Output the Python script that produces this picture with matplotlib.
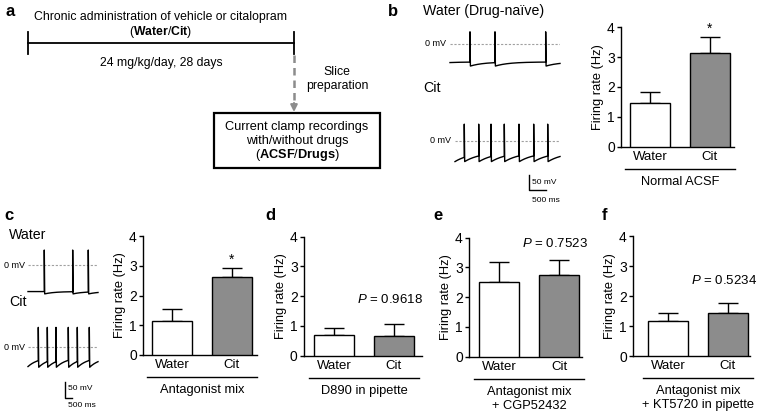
import numpy as np
import matplotlib.pyplot as plt
from matplotlib.patches import Rectangle

plt.rcParams['font.family'] = ['Liberation Sans', 'DejaVu Sans']
plt.rcParams['mathtext.fontset'] = 'custom'
plt.rcParams['mathtext.rm'] = 'Liberation Sans'
plt.rcParams['mathtext.it'] = 'Liberation Sans:italic'
plt.rcParams['mathtext.bf'] = 'Liberation Sans:bold'

# firing rates (Hz), mean and SEM, Water / Cit
groups = ['Water', 'Cit']
rate_b = [1.45, 3.15]
sem_b = [0.38, 0.54]
rate_c = [1.14, 2.61]
sem_c = [0.42, 0.32]
rate_d = [0.70, 0.67]
sem_d = [0.22, 0.40]
rate_e = [2.50, 2.76]
sem_e = [0.67, 0.49]
rate_f = [1.17, 1.44]
sem_f = [0.27, 0.34]
conditions = ['Normal ACSF', 'Antagonist mix', 'D890 in pipette',
              'Antagonist mix\n+ CGP52432', 'Antagonist mix\n+ KT5720 in pipette']
stats = ['*', '*', '$P$ = 0.9618', '$P$ = 0.7523', '$P$ = 0.5234']

# example current clamp traces: spike times (ms)
spikes_b_water = [588, 1323, 2814]
spikes_b_cit = [273, 697, 1059, 1450, 1882, 2314, 2726]
spikes_c_water = [479, 1314, 1773]
spikes_c_cit = [303, 568, 823, 1185, 1450, 1803]
# (start, rest, AHP, peak) in mV, recovery tau in ms
volt_b_water = [-64, -62, -76, 42, 400]
volt_b_cit = [-72, -40, -72, 57, 444]
volt_c_water = [-80, -80, -87, 45, 300]
volt_c_cit = [-58, -30, -60, 60, 300]

W, H = 760, 416
fig = plt.figure(figsize=(W / 100, H / 100), dpi=100)


def box(x0, y0, x1, y1):
    return [x0 / W, 1 - y1 / H, (x1 - x0) / W, (y1 - y0) / H]


canvas = fig.add_axes([0, 0, 1, 1])
canvas.set_xlim(0, W)
canvas.set_ylim(H, 0)
canvas.axis('off')

# ---- panel a: protocol diagram
fa = 8.8
canvas.text(161, 17, 'Chronic administration of vehicle or citalopram', ha='center', va='center', fontsize=fa)
canvas.text(161, 32, '(' + r'$\mathbf{Water}$' + '/' + r'$\mathbf{Cit}$' + ')', ha='center', va='center', fontsize=fa)
canvas.plot([28, 294], [43, 43], color='black', lw=1.3)
canvas.plot([28, 28], [32, 54], color='black', lw=1.3)
canvas.plot([294, 294], [32, 54], color='black', lw=1.3)
canvas.text(161, 63, '24 mg/kg/day, 28 days', ha='center', va='center', fontsize=fa)
canvas.plot([294, 294], [55, 105], color='#8c8c8c', lw=1.8, dashes=(3, 2))
canvas.annotate('', xy=(294, 112), xytext=(294, 103),
                arrowprops=dict(arrowstyle='-|>', color='#8c8c8c', lw=1.5, mutation_scale=10,
                                shrinkA=0, shrinkB=0))
canvas.text(337, 72, 'Slice', ha='center', va='center', fontsize=fa)
canvas.text(337, 86, 'preparation', ha='center', va='center', fontsize=fa)
canvas.add_patch(Rectangle((214, 113), 166, 55, fill=False, lw=1.6, edgecolor='black'))
canvas.text(297, 127, 'Current clamp recordings', ha='center', va='center', fontsize=9.2)
canvas.text(297, 141, 'with/without drugs', ha='center', va='center', fontsize=9.2)
canvas.text(297, 155, '(' + r'$\mathbf{ACSF}$' + '/' + r'$\mathbf{Drugs}$' + ')', ha='center', va='center', fontsize=9.2)

# panel letters
for lab, x, y in [('a', 10, 12), ('b', 393, 12), ('c', 9, 215), ('d', 270, 215), ('e', 438, 215), ('f', 605, 215)]:
    canvas.text(x, y, lab, ha='center', va='center', fontsize=12, fontweight='bold')


# ---- example traces
def make_trace(spikes, T, volt):
    v_start, v_rest, v_ahp, v_peak, tau = volt
    t_all, v_all = [], []
    prev_t, prev_v = 0.0, v_start
    for ts in list(spikes) + [T]:
        tt = np.linspace(prev_t, ts, 80)
        vv = v_rest + (prev_v - v_rest) * np.exp(-(tt - prev_t) / tau)
        t_all += list(tt)
        v_all += list(vv)
        if ts < T:
            t_all += [ts, ts + 12]
            v_all += [v_peak, v_ahp]
            prev_t, prev_v = ts + 12, v_ahp
    return np.array(t_all), np.array(v_all)


def trace_axes(x0, x1, y0, ms_px, mv_px, spikes, volt, zero_lab_x):
    ax = fig.add_axes(box(x0, y0 - 30, x1, y0 + 30))
    ax.axis('off')
    T = (x1 - x0) * ms_px
    ax.set_xlim(0, T)
    ax.set_ylim(-30 * mv_px, 30 * mv_px)
    ax.plot([0, T], [0, 0], color='#a0a0a0', lw=0.8, dashes=(2, 1.5))
    t, v = make_trace(spikes, T, volt)
    ax.plot(t, v, color='black', lw=1.0, clip_on=False)
    canvas.text(zero_lab_x, y0, '0 mV', ha='right', va='center', fontsize=6.5)
    return ax


ms_b, mv_b = 500 / 17, 50 / 14.5
trace_axes(450, 560, 44, ms_b, mv_b, spikes_b_water, volt_b_water, 446)
ax_bc = trace_axes(455, 560, 140.7, ms_b, mv_b, spikes_b_cit, volt_b_cit, 451)
canvas.text(423, 11, 'Water (Drug-naïve)', ha='left', va='center', fontsize=10.2)
canvas.text(423, 88, 'Cit', ha='left', va='center', fontsize=10.2)
# scale bar b
canvas.plot([529.3, 529.3, 546.3], [175, 189.5, 189.5], color='black', lw=1.0)
canvas.text(531.5, 182, '50 mV', ha='left', va='center', fontsize=6)
canvas.text(531.5, 200, '500 ms', ha='left', va='center', fontsize=6)

ms_c, mv_c = 500 / 17, 50 / 16.6
trace_axes(28, 98, 265, ms_c, mv_c, spikes_c_water, volt_c_water, 25)
trace_axes(28, 98, 347.3, ms_c, mv_c, spikes_c_cit, volt_c_cit, 25)
canvas.text(9, 235, 'Water', ha='left', va='center', fontsize=10.2)
canvas.text(9, 302, 'Cit', ha='left', va='center', fontsize=10.2)
canvas.plot([65, 65, 72], [381.7, 398.3, 398.3], color='black', lw=1.0)
canvas.text(68, 389, '50 mV', ha='left', va='center', fontsize=6)
canvas.text(68, 405.5, '500 ms', ha='left', va='center', fontsize=6)

# ---- bar charts: (axis left, water bar left, axis right, y of 4, y of 0) in px
layout = [(621, 630, 734, 27.3, 146.7),
          (143, 152, 257, 236, 355),
          (304, 314, 422, 236.7, 355.7),
          (469, 479, 582, 237.7, 356.7),
          (633, 648, 750, 236, 356)]
stat_y = [None, None, 1.9, 3.79, 2.53]
rates = [rate_b, rate_c, rate_d, rate_e, rate_f]
sems = [sem_b, sem_c, sem_d, sem_e, sem_f]

for (axl, wl, axr, ytop, ybot), vals, errs, cond, st, sy in zip(layout, rates, sems, conditions, stats, stat_y):
    ax = fig.add_axes(box(axl, ytop, axr, ybot))
    ax.set_facecolor('none')
    xs = [0, 1.5]
    ax.bar(xs, vals, width=1, color=['white', '#8c8c8c'], edgecolor='black', linewidth=1.0, zorder=3)
    ax.errorbar(xs, vals, yerr=[[0, 0], errs], fmt='none', ecolor='black', elinewidth=1.0,
                capsize=7.2, capthick=1.0, zorder=2)
    ax.set_xlim(-0.5 - (wl - axl) / 40, (axr - wl) / 40 - 0.5)
    ax.set_ylim(0, 4)
    ax.set_yticks([0, 1, 2, 3, 4])
    for s in ['top', 'right']:
        ax.spines[s].set_visible(False)
    for s in ['left', 'bottom']:
        ax.spines[s].set_linewidth(1.0)
    ax.set_xticks(xs)
    ax.set_xticklabels(groups, fontsize=9.5)
    ax.tick_params(axis='x', length=0, pad=3)
    ax.tick_params(axis='y', length=3, width=1.0, pad=1.5, labelsize=10)
    ax.set_ylabel('Firing rate (Hz)', fontsize=9.3, labelpad=2)
    if st == '*':
        ax.text(1.5, vals[1] + errs[1] + 0.12, '*', ha='center', va='baseline', fontsize=10)
    else:
        ax.text(1.4, sy, st, ha='center', va='center', fontsize=9.5)
    canvas.plot([wl - 5, wl + 105], [ybot + 22, ybot + 22], color='black', lw=1.0)
    canvas.text(wl + 50, ybot + 29, cond, ha='center', va='top', fontsize=9.3, linespacing=1.25)

fig.savefig('out.png', dpi=100)
